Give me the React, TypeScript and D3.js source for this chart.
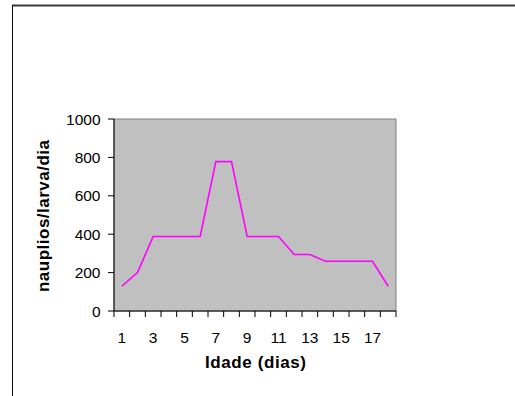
import React from "react";
import * as d3 from "d3";

// Daily nauplii consumption per larva by age
const days: number[] = [1, 2, 3, 4, 5, 6, 7, 8, 9, 10, 11, 12, 13, 14, 15, 16, 17, 18];
const nauplios: number[] = [129, 200, 388, 388, 388, 388, 778, 778, 388, 388, 388, 294, 294, 259, 259, 259, 259, 129];
const yTicks: number[] = [0, 200, 400, 600, 800, 1000];
const xTickLabels: number[] = [1, 3, 5, 7, 9, 11, 13, 15, 17];

const W = 515;
const H = 396;
const plot = { left: 114, right: 396, top: 119, bottom: 311 };
const FONT = "Arial, 'Liberation Sans', sans-serif";

export default function App() {
  const x = d3
    .scaleBand<number>()
    .domain(days)
    .range([plot.left, plot.right])
    .paddingInner(0)
    .paddingOuter(0);
  const y = d3.scaleLinear().domain([0, 1000]).range([plot.bottom, plot.top]);

  const line = d3
    .line<number>()
    .x((_, i) => (x(days[i]) as number) + x.bandwidth() / 2)
    .y((v) => y(v));

  const boundaries = d3.range(days.length + 1).map((i) => plot.left + i * x.step());

  return (
    <svg
      width={W}
      height={H}
      style={{ position: "absolute", left: 0, top: 0, background: "#fff" }}
    >
      {/* outer frame */}
      <line x1={12} x2={W} y1={5.5} y2={5.5} stroke="#3a3a3a" strokeWidth={2} />
      <line x1={12.5} x2={12.5} y1={5} y2={H} stroke="#111" strokeWidth={1} />

      {/* plot area */}
      <rect
        x={plot.left}
        y={plot.top}
        width={plot.right - plot.left}
        height={plot.bottom - plot.top}
        fill="#c0c0c0"
        stroke="#808080"
        strokeWidth={1}
      />

      {/* y axis */}
      <line x1={plot.left} x2={plot.left} y1={plot.top} y2={plot.bottom} stroke="#000" strokeWidth={1} />
      {yTicks.map((t) => (
        <g key={t}>
          <line x1={plot.left - 6} x2={plot.left} y1={y(t)} y2={y(t)} stroke="#000" />
          <text
            x={100.5}
            y={y(t) + 5.5}
            textAnchor="end"
            fontFamily={FONT}
            fontSize={15.5}
            fill="#000"
          >
            {t}
          </text>
        </g>
      ))}

      {/* x axis */}
      <line x1={plot.left} x2={plot.right} y1={plot.bottom} y2={plot.bottom} stroke="#000" strokeWidth={1} />
      {boundaries.map((bx, i) => (
        <line key={i} x1={bx} x2={bx} y1={plot.bottom} y2={plot.bottom + 6} stroke="#000" />
      ))}
      {xTickLabels.map((d) => (
        <text
          key={d}
          x={(x(d) as number) + x.bandwidth() / 2}
          y={342.5}
          textAnchor="middle"
          fontFamily={FONT}
          fontSize={15.5}
          fill="#000"
        >
          {d}
        </text>
      ))}

      {/* series */}
      <path d={line(nauplios) ?? ""} fill="none" stroke="#ff00ff" strokeWidth={1.6} />

      {/* axis titles */}
      <text
        x={(plot.left + plot.right) / 2 + 0.5}
        y={367.5}
        textAnchor="middle"
        fontFamily={FONT}
        fontSize={17}
        fontWeight="bold"
        textLength={101}
        lengthAdjust="spacing"
        fill="#000"
      >
        Idade (dias)
      </text>
      <text
        transform={`translate(49, ${(plot.top + plot.bottom) / 2 + 1}) rotate(-90)`}
        textAnchor="middle"
        fontFamily={FONT}
        fontSize={17}
        fontWeight="bold"
        textLength={152}
        lengthAdjust="spacing"
        fill="#000"
      >
        nauplios/larva/dia
      </text>
    </svg>
  );
}
